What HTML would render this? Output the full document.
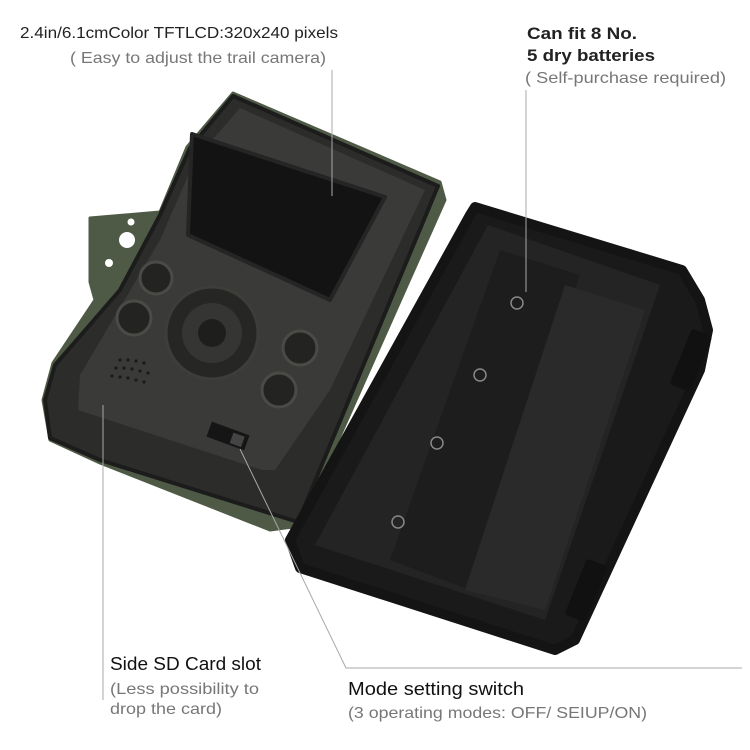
<!DOCTYPE html>
<html><head><meta charset="utf-8"><style>
html,body{margin:0;padding:0;background:#fff;}
svg{display:block;}
text{font-family:"Liberation Sans",sans-serif;}
</style></head><body>
<svg width="750" height="750" viewBox="0 0 750 750">
<!-- left body -->
<polygon points="233,93 440,182 445,200 300,526 270,530 100,463 50,440 43,400 53,363 95,300 90,282 90,218 160,212 187,147" fill="#4f5a46" stroke="#4f5a46" stroke-width="3" stroke-linejoin="round"/>
<polygon points="233,96 438,186 298,522 100,460 50,438 45,400 55,365 120,290 160,215 190,148" fill="#2c2c2b" stroke="#1c1c1c" stroke-width="4" stroke-linejoin="round"/>
<polygon points="240,108 425,190 330,390 275,470 262,470 78,410 80,375 160,240 195,160" fill="#3a3a38"/>
<circle cx="127" cy="240" r="8" fill="#fff"/>
<circle cx="109" cy="263" r="4" fill="#fff"/>
<circle cx="131" cy="222" r="3.5" fill="#fff"/>
<polygon points="192,134 385,197 330,300 188,235" fill="#141313" stroke="#252525" stroke-width="4" stroke-linejoin="round"/>
<g fill="#232322" stroke="#4a4a47" stroke-width="3">
<circle cx="156" cy="278" r="16"/>
<circle cx="134" cy="318" r="17"/>
<circle cx="300" cy="348" r="17"/>
<circle cx="279" cy="390" r="17"/>
</g>
<circle cx="212" cy="333" r="46" fill="#262625" stroke="#3d3d3a" stroke-width="3"/>
<circle cx="212" cy="333" r="30" fill="#353533"/>
<circle cx="212" cy="333" r="14" fill="#1e1e1d"/>
<g fill="#1a1a1a">
<circle cx="120" cy="360" r="1.6"/><circle cx="128" cy="360" r="1.6"/><circle cx="136" cy="361" r="1.6"/><circle cx="144" cy="363" r="1.6"/>
<circle cx="116" cy="368" r="1.6"/><circle cx="124" cy="368" r="1.6"/><circle cx="132" cy="369" r="1.6"/><circle cx="140" cy="371" r="1.6"/><circle cx="148" cy="373" r="1.6"/>
<circle cx="112" cy="376" r="1.6"/><circle cx="120" cy="377" r="1.6"/><circle cx="128" cy="378" r="1.6"/><circle cx="136" cy="380" r="1.6"/><circle cx="144" cy="382" r="1.6"/>
</g>
<rect x="208" y="428" width="40" height="16" fill="#151515" transform="rotate(20 228 436)"/>
<rect x="232" y="431" width="12" height="11" fill="#444" transform="rotate(20 228 436)"/>
<!-- right box -->
<polygon points="475,207 682,270 700,300 708,330 700,370 575,640 555,650 300,568 290,540 470,215" fill="#1a1a1a" stroke="#141414" stroke-width="10" stroke-linejoin="round"/>
<polygon points="488,225 660,285 545,620 315,545" fill="#242424"/>
<polygon points="500,250 580,275 470,590 390,560" fill="#1d1d1d"/>
<polygon points="565,285 645,310 545,610 465,590" fill="#2b2a2a"/>
<g fill="none" stroke="#888" stroke-width="1.5">
<circle cx="517" cy="303" r="6"/><circle cx="480" cy="375" r="6"/><circle cx="437" cy="443" r="6"/><circle cx="398" cy="522" r="6"/>
</g>
<rect x="680" y="330" width="22" height="60" fill="#111" rx="3" transform="rotate(22 690 360)"/>
<rect x="575" y="560" width="22" height="60" fill="#111" rx="3" transform="rotate(22 585 590)"/>
<!-- leader lines on top -->
<g stroke="#a8a8a8" stroke-width="1" fill="none">
<line x1="332" y1="70" x2="332" y2="196"/>
<line x1="526" y1="90" x2="526" y2="292"/>
<line x1="103" y1="405" x2="103" y2="700"/>
<polyline points="240,449 346,668 742,668"/>
</g>
<text x="20" y="38" font-size="16" textLength="318" lengthAdjust="spacingAndGlyphs" fill="#222">2.4in/6.1cmColor TFTLCD:320x240 pixels</text>
<text x="70" y="63" font-size="16" textLength="256" lengthAdjust="spacingAndGlyphs" fill="#777">( Easy to adjust the trail camera)</text>
<text x="527" y="39" font-size="17" font-weight="bold" textLength="110" lengthAdjust="spacingAndGlyphs" fill="#222">Can fit 8 No.</text>
<text x="527" y="61" font-size="17" font-weight="bold" textLength="128" lengthAdjust="spacingAndGlyphs" fill="#222">5 dry batteries</text>
<text x="525" y="83" font-size="16" textLength="201" lengthAdjust="spacingAndGlyphs" fill="#777">( Self-purchase required)</text>
<text x="110" y="670" font-size="18" textLength="151" lengthAdjust="spacingAndGlyphs" fill="#111">Side SD Card slot</text>
<text x="110" y="694" font-size="16" textLength="149" lengthAdjust="spacingAndGlyphs" fill="#777">(Less possibility to</text>
<text x="110" y="714" font-size="16" textLength="112" lengthAdjust="spacingAndGlyphs" fill="#777">drop the card)</text>
<text x="348" y="695" font-size="18" textLength="176" lengthAdjust="spacingAndGlyphs" fill="#111">Mode setting switch</text>
<text x="348" y="718" font-size="16" textLength="299" lengthAdjust="spacingAndGlyphs" fill="#777">(3 operating modes: OFF/ SEIUP/ON)</text>
</svg>
</body></html>
